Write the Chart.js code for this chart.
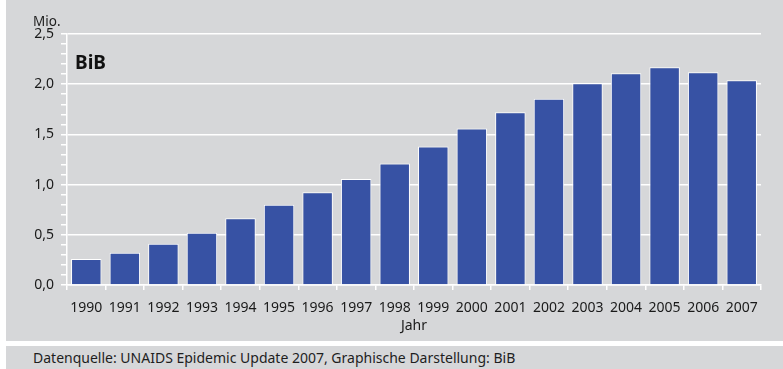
<!DOCTYPE html>
<html>
<head>
<meta charset="utf-8">
<script src="https://cdn.jsdelivr.net/npm/chart.js@4"></script>
<style>
  html, body { margin:0; padding:0; background:#ffffff; width:783px; height:369px; overflow:hidden; }
  #panel { position:absolute; left:6px; top:0; width:777px; height:341px; background:#d6d7d9; }
  #footer { position:absolute; left:6px; top:346px; width:777px; height:23px; background:#d6d7d9; }
  #footer span { position:absolute; left:27px; top:2px; font-family:"Noto Sans", sans-serif; font-size:14px; color:#1e1e1e; white-space:nowrap; }
  #wrap { position:absolute; left:0; top:0; width:777px; height:341px; }
  #mio { position:absolute; left:27px; top:12px; font-family:"Noto Sans", sans-serif; font-size:13.5px; color:#1e1e1e; }
  #bib { position:absolute; left:69px; top:49px; font-family:"Noto Sans", sans-serif; font-weight:bold; font-size:19px; color:#111; }
</style>
</head>
<body>
<div id="panel">
  <div id="wrap"><canvas id="c" width="777" height="341"></canvas></div>
  <div id="mio">Mio.</div>
  <div id="bib">BiB</div>
</div>
<div id="footer"><span>Datenquelle: UNAIDS Epidemic Update 2007, Graphische Darstellung: BiB</span></div>
<script>
const years = ["1990","1991","1992","1993","1994","1995","1996","1997","1998","1999","2000","2001","2002","2003","2004","2005","2006","2007"];
const deathsMio = [0.26,0.32,0.41,0.52,0.665,0.80,0.925,1.055,1.21,1.38,1.56,1.72,1.855,2.01,2.11,2.17,2.12,2.04];
const yMax = 2.5;
const xTitle = "Jahr";

const FONT = '"Noto Sans", sans-serif';
new Chart(document.getElementById('c'), {
  type: 'bar',
  data: {
    labels: years,
    datasets: [{
      data: deathsMio,
      backgroundColor: '#3752a4',
      borderColor: '#ffffff',
      borderWidth: 1,
      categoryPercentage: 1.0,
      barPercentage: 0.79
    }]
  },
  options: {
    responsive: false,
    animation: false,
    events: [],
    layout: { padding: { left: 0, top: 34, right: 22, bottom: 0 } },
    plugins: { legend: { display: false }, tooltip: { enabled: false }, title: { display: false } },
    scales: {
      x: {
        afterFit: s => { s.height = 56; },
        border: { color: '#ffffff', width: 1.5 },
        grid: { offset: true, drawOnChartArea: false, drawTicks: true, tickLength: 5, color: '#ffffff', lineWidth: 1.5 },
        ticks: { color: '#1a1a1a', font: { family: FONT, size: 14 }, padding: 10, maxRotation: 0, autoSkip: false },
        title: { display: true, text: xTitle, color: '#1a1a1a', font: { family: FONT, size: 14 }, padding: { top: 7, bottom: 7 } }
      },
      y: {
        min: 0, max: yMax,
        afterFit: s => { s.width = 61; },
        border: { color: '#ffffff', width: 1.5 },
        grid: {
          drawTicks: true, tickLength: 6,
          color: ctx => (Math.abs(ctx.tick.value * 2 - Math.round(ctx.tick.value * 2)) < 1e-6) ? '#ffffff' : 'rgba(0,0,0,0)',
          tickColor: '#ffffff', lineWidth: 1.5
        },
        ticks: {
          stepSize: 0.1,
          autoSkip: false,
          color: '#1a1a1a', font: { family: FONT, size: 14 }, padding: 7,
          callback: v => (Math.abs(v * 2 - Math.round(v * 2)) < 1e-6) ? v.toFixed(1).replace('.', ',') : ''
        }
      }
    }
  }
});
</script>
</body>
</html>
